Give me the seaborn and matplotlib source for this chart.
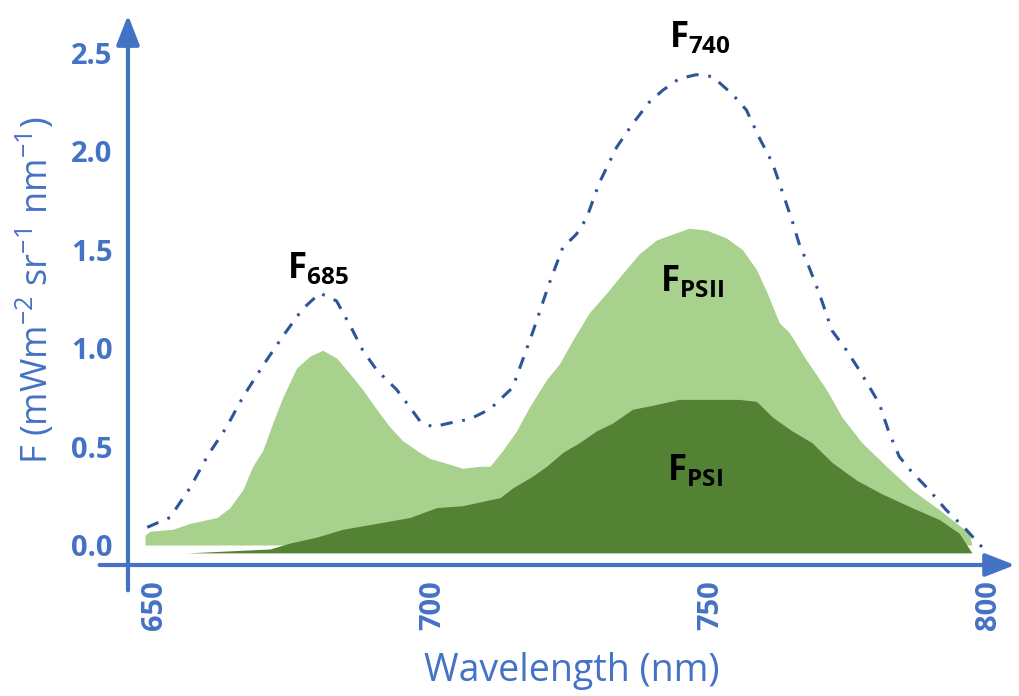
import matplotlib
matplotlib.use("Agg")
import matplotlib.pyplot as plt
import seaborn as sns

# total fluorescence (dash-dot line)
wl_total = [648.6, 652.7, 656.3, 659.4, 662.9, 665.8, 669.4, 673.0, 676.6, 679.7,
            682.7, 685.6, 687.4, 689.9, 693.5, 695.9, 697.7, 700.0, 703.1, 706.7,
            710.3, 714.4, 718.0, 721.0, 723.4, 725.9, 727.7, 730.0, 733.1, 736.0,
            739.0, 741.4, 744.4, 747.5, 750.4, 754.0, 756.5, 758.8, 761.2, 762.9,
            764.7, 766.0, 767.8, 769.6, 771.9, 774.5, 776.8, 780.4, 782.2, 784.0,
            786.3, 789.4, 792.4, 796.0, 798.9]
f_total = [0.09, 0.14, 0.29, 0.45, 0.60, 0.75, 0.91, 1.06, 1.20, 1.28,
           1.24, 1.09, 0.99, 0.89, 0.79, 0.70, 0.63, 0.60, 0.62, 0.64,
           0.69, 0.80, 1.08, 1.33, 1.51, 1.58, 1.66, 1.84, 2.02, 2.14,
           2.25, 2.31, 2.37, 2.39, 2.38, 2.29, 2.21, 2.07, 1.94, 1.80,
           1.65, 1.53, 1.41, 1.28, 1.09, 0.99, 0.89, 0.72, 0.57, 0.45,
           0.37, 0.28, 0.18, 0.08, -0.01]

# PSII (light green)
wl_psii = [648.2, 649.1, 653.2, 656.3, 661.2, 663.5, 665.8, 667.6, 669.4, 671.2,
           673.0, 675.5, 677.9, 680.2, 682.7, 685.1, 687.4, 689.9, 692.3, 694.6,
           697.7, 699.5, 703.1, 705.4, 708.5, 710.3, 712.6, 715.1, 717.4, 720.5,
           722.8, 725.2, 728.2, 731.3, 734.2, 737.2, 740.3, 743.2, 746.2, 749.3,
           752.9, 755.8, 758.3, 760.1, 762.4, 764.2, 767.3, 770.9, 773.7, 777.3,
           781.7, 786.3, 791.2, 796.6, 797.1]
f_psii = [0.05, 0.07, 0.08, 0.11, 0.14, 0.19, 0.28, 0.40, 0.48, 0.62,
          0.75, 0.90, 0.96, 0.99, 0.95, 0.87, 0.79, 0.69, 0.60, 0.53,
          0.47, 0.44, 0.41, 0.39, 0.40, 0.40, 0.48, 0.58, 0.70, 0.84,
          0.92, 1.04, 1.18, 1.28, 1.38, 1.48, 1.55, 1.58, 1.61, 1.60,
          1.56, 1.50, 1.40, 1.29, 1.13, 1.08, 0.94, 0.79, 0.65, 0.52,
          0.40, 0.28, 0.18, 0.06, 0.0]

# PSI (dark green)
wl_psi = [655.8, 670.7, 674.3, 679.1, 683.8, 689.9, 695.9, 700.7, 705.4, 710.3,
          712.1, 714.4, 718.0, 720.5, 723.4, 726.4, 729.5, 732.4, 736.0, 739.6,
          744.4, 750.4, 755.2, 758.3, 761.2, 764.7, 768.3, 771.9, 776.3, 780.9,
          786.3, 791.2, 794.8, 797.1]
f_psi = [-0.04, -0.02, 0.01, 0.04, 0.08, 0.11, 0.14, 0.19, 0.20, 0.23,
         0.24, 0.29, 0.35, 0.40, 0.47, 0.52, 0.58, 0.62, 0.69, 0.71,
         0.74, 0.74, 0.74, 0.73, 0.65, 0.58, 0.52, 0.42, 0.33, 0.26,
         0.19, 0.13, 0.06, -0.04]

x_ticks = [650, 700, 750, 800]
y_ticks = [0.0, 0.5, 1.0, 1.5, 2.0, 2.5]

blue = "#4472C4"
navy = "#2F5597"
light_green = "#A9D18E"
dark_green = "#548235"

sns.set_style("white")
plt.rcParams["font.family"] = ["Open Sans", "DejaVu Sans"]
plt.rcParams["mathtext.fontset"] = "custom"
plt.rcParams["mathtext.rm"] = "Open Sans"
plt.rcParams["mathtext.bf"] = "Open Sans:bold"

fig = plt.figure(figsize=(10.19, 6.96), dpi=100)
ax = fig.add_axes([0.1256, 0.1882, 0.8705, 0.7902])

ax.fill_between(wl_psii, 0.0, f_psii, color=light_green, lw=0)
ax.fill_between(wl_psi, -0.04, f_psi, color=dark_green, lw=0)
sns.lineplot(x=wl_total, y=f_total, ax=ax, color=navy, lw=2.2,
             linestyle=(0, (4, 3.2, 0.9, 3.2)))

ax.set_xlim(645.14, 804.86)
ax.set_ylim(-0.1016, 2.693)

for s in ax.spines.values():
    s.set_visible(False)

# axes with arrow heads
arrow = dict(arrowstyle="-|>,head_length=0.9,head_width=0.35", color=blue,
             lw=3, mutation_scale=20, shrinkA=0, shrinkB=0)
ax.annotate("", xy=(0, 1), xytext=(0, -0.046), xycoords="axes fraction",
            arrowprops=arrow, annotation_clip=False)
ax.annotate("", xy=(1, 0), xytext=(-0.032, 0), xycoords="axes fraction",
            arrowprops=arrow, annotation_clip=False)

ax.set_xticks(x_ticks)
ax.set_yticks(y_ticks)
ax.set_yticklabels([f"{v:.1f}" for v in y_ticks])
ax.tick_params(axis="both", colors=blue, width=3, labelsize=21)
ax.tick_params(axis="x", length=8, pad=3, labelrotation=90)
ax.tick_params(axis="y", length=6, pad=5)
for lab in ax.get_xticklabels() + ax.get_yticklabels():
    lab.set_fontweight("bold")

ax.set_xlabel("Wavelength (nm)", color=blue, fontsize=27, labelpad=16)
ax.set_ylabel(r"F (mWm$^{-2}$ sr$^{-1}$ nm$^{-1}$)", color=blue, fontsize=26, labelpad=10)

ax.text(679.4, 1.41, r"$\mathbf{F_{685}}$", fontsize=25, ha="center", va="center", color="black")
ax.text(748.1, 2.58, r"$\mathbf{F_{740}}$", fontsize=25, ha="center", va="center", color="black")
ax.text(746.7, 1.34, r"$\mathbf{F_{PSII}}$", fontsize=25, ha="center", va="center", color="black")
ax.text(747.2, 0.38, r"$\mathbf{F_{PSI}}$", fontsize=25, ha="center", va="center", color="black")

fig.savefig("out.png", dpi=100)
